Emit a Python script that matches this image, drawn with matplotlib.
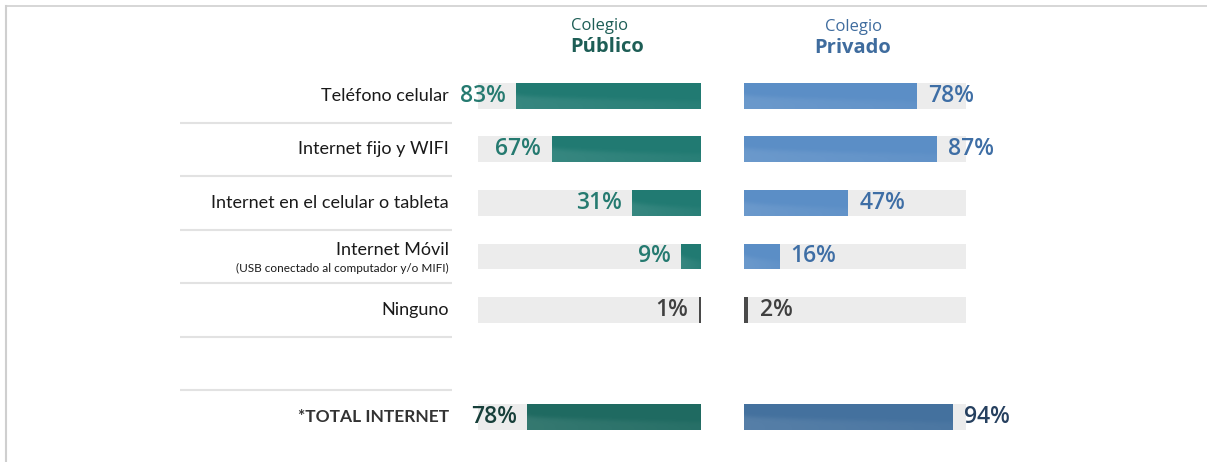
import matplotlib
matplotlib.use("Agg")
import matplotlib.pyplot as plt
import numpy as np
from matplotlib.lines import Line2D

# ---------------- data ----------------
categories = ["Teléfono celular", "Internet fijo y WIFI",
              "Internet en el celular o tableta", "Internet Móvil",
              "Ninguno", "*TOTAL INTERNET"]
subtitle_movil = "(USB conectado al computador y/o MIFI)"
publico = [83, 67, 31, 9, 1, 78]
privado = [78, 87, 47, 16, 2, 94]
row_pos = [0, 1, 2, 3, 4, 6]
title_small = "Colegio"
title_pub = "Público"
title_pri = "Privado"

# ---------------- style ----------------
pub_bar = ["#217a72", "#217a72", "#217a72", "#217a72", "#4a4a4a", "#1f6a61"]
pri_bar = ["#5b8ec6", "#5b8ec6", "#5b8ec6", "#5b8ec6", "#4a4a4a", "#44719e"]
pub_txt = ["#257a70", "#257a70", "#257a70", "#257a70", "#404040", "#173f3a"]
pri_txt = ["#3e6ea5", "#3e6ea5", "#3e6ea5", "#3e6ea5", "#404040", "#26405f"]
bg_col = "#ececec"
BAR_H = 0.485

W, H = 1207, 462
fig = plt.figure(figsize=(W / 100, H / 100), dpi=100)
fig.patch.set_facecolor("white")

def px_rect(x0, x1, yt, yb):
    return [x0 / W, 1 - yb / H, (x1 - x0) / W, (yb - yt) / H]

YT, YB = 69.2, 443.8
ax_lab = fig.add_axes(px_rect(180, 452, YT, YB))
ax_pub = fig.add_axes(px_rect(478, 701, YT, YB))
ax_pri = fig.add_axes(px_rect(744, 966, YT, YB))

for ax in (ax_lab, ax_pub, ax_pri):
    ax.set_ylim(6.5, -0.5)
    ax.axis("off")
ax_lab.set_xlim(0, 1)
ax_pub.set_xlim(100, 0)
ax_pri.set_xlim(0, 100)

def swoosh(ax, patch, x_left, x_right, yc, strength=0.10):
    n_u, n_v = 200, 40
    u = np.linspace(0, 1, n_u)[None, :]
    v = np.linspace(0, 1, n_v)[:, None]
    c = 0.45 + 0.25 * np.sqrt(u)
    a = strength / (1 + np.exp(-(v - c) / 0.05)) * (1 - 0.6 * u)
    img = np.zeros((n_v, n_u, 4))
    img[..., :3] = 1.0
    img[..., 3] = np.clip(a, 0, 1)
    im = ax.imshow(img, extent=(x_left, x_right, yc + BAR_H / 2, yc - BAR_H / 2),
                   origin="upper", aspect="auto", interpolation="bilinear", zorder=3)
    im.set_clip_path(patch)

# backgrounds
ax_pub.barh(row_pos, [100] * len(row_pos), height=BAR_H, color=bg_col, zorder=1)
ax_pri.barh(row_pos, [100] * len(row_pos), height=BAR_H, color=bg_col, zorder=1)
bars_pub = ax_pub.barh(row_pos, publico, height=BAR_H, color=pub_bar, zorder=2)
bars_pri = ax_pri.barh(row_pos, privado, height=BAR_H, color=pri_bar, zorder=2)

for p, v, yc in zip(bars_pub.patches, publico, row_pos):
    if v > 5:
        swoosh(ax_pub, p, v, 0, yc)
for p, v, yc in zip(bars_pri.patches, privado, row_pos):
    if v > 5:
        swoosh(ax_pri, p, 0, v, yc)

ax_pub.set_xlim(100, 0); ax_pub.set_ylim(6.5, -0.5)
ax_pri.set_xlim(0, 100); ax_pri.set_ylim(6.5, -0.5)

VAL_FONT = dict(family="Open Sans", fontsize=16.5, fontweight="semibold")
for v, yc, col in zip(publico, row_pos, pub_txt):
    ax_pub.annotate(f"{v}%", xy=(v, yc), xytext=(-7.5, 0), textcoords="offset points",
                    ha="right", va="center", color=col, zorder=5, **VAL_FONT)
for v, yc, col in zip(privado, row_pos, pri_txt):
    ax_pri.annotate(f"{v}%", xy=(v, yc), xytext=(8, 0), textcoords="offset points",
                    ha="left", va="center", color=col, zorder=5, **VAL_FONT)

# category labels
lx = (449 - 180) / 272
LAB = dict(family="Lato", color="#1a1a1a", ha="right", va="center")
for cat, yc in zip(categories, row_pos):
    if cat == "Internet Móvil":
        ax_lab.text(lx, yc - 0.13, cat, fontsize=13, **LAB)
        ax_lab.text(lx, yc + 0.23, subtitle_movil, fontsize=8.5, **LAB)
    elif cat.startswith("*"):
        ax_lab.text(lx, yc, cat, ha="right", va="center", family="Lato",
                    fontsize=12.5, fontweight="bold", color="#333333")
    else:
        ax_lab.text(lx, yc, cat, fontsize=13, **LAB)

ax_lab.hlines([0.5, 1.5, 2.5, 3.5, 4.5, 5.5], 0, 1, color="#e2e2e2", lw=1.5)

# titles
def ftxt(x, y, s, **kw):
    fig.text(x / W, 1 - y / H, s, ha="center", va="center", **kw)

ftxt(600, 26, title_small, family="Open Sans", fontsize=12, color="#1e5e56")
ftxt(607, 47, title_pub, family="Open Sans", fontsize=14.5, fontweight="bold", color="#1e5e56")
ftxt(853, 27, title_small, family="Open Sans", fontsize=12, color="#3f6c9e")
ftxt(853, 48, title_pri, family="Open Sans", fontsize=14.5, fontweight="bold", color="#3f6c9e")

# frame lines
fig.add_artist(Line2D([5.5 / W, 1], [1 - 5.5 / H] * 2, transform=fig.transFigure,
                      color="#cfcfcf", lw=1.2))
fig.add_artist(Line2D([5.5 / W] * 2, [1 - 5.5 / H, 0], transform=fig.transFigure,
                      color="#cfcfcf", lw=1.5))

fig.savefig("out.png", dpi=100, facecolor="white")
